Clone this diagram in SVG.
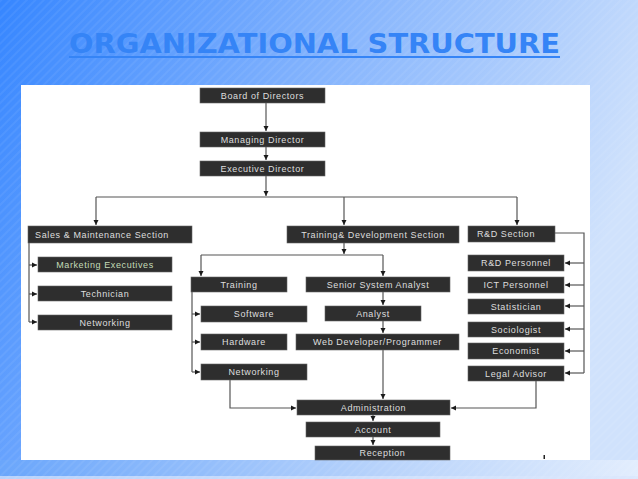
<svg xmlns="http://www.w3.org/2000/svg" width="638" height="479" viewBox="0 0 638 479">
<defs>
<linearGradient id="bg" x1="0" y1="0" x2="1" y2="0.35">
<stop offset="0" stop-color="#3686ff"/>
<stop offset="0.45" stop-color="#7eb0fd"/>
<stop offset="1" stop-color="#d0e2fc"/>
</linearGradient>
<linearGradient id="band" x1="0" y1="0" x2="1" y2="0">
<stop offset="0" stop-color="#6aa6fb"/>
<stop offset="0.6" stop-color="#b8d3fb"/>
<stop offset="1" stop-color="#e2edfd"/>
</linearGradient>
<pattern id="stripes" width="6" height="6" patternUnits="userSpaceOnUse" patternTransform="rotate(-45)">
<rect width="6" height="2" fill="#ffffff" opacity="0.06"/>
</pattern>
<marker id="arr" markerWidth="6" markerHeight="6" refX="5" refY="3" orient="auto" markerUnits="userSpaceOnUse">
<path d="M0,0.5 L5,3 L0,5.5 Z" fill="#1a1a1a"/>
</marker>
<style>
.box{fill:#2e2e2e;stroke:#666;stroke-width:0.6}
.lbl{font-family:"Liberation Sans",Arial,sans-serif;font-size:9px;letter-spacing:0.6px;fill:#dedede;text-anchor:middle}
.ln{fill:none;stroke:#555;stroke-width:1.2}
.ar{fill:none;stroke:#555;stroke-width:1.2;marker-end:url(#arr)}
</style>
</defs>
<rect width="638" height="479" fill="url(#bg)"/>
<rect x="0" y="460" width="638" height="19" fill="url(#band)"/>
<rect x="0" y="476" width="638" height="3" fill="#d8e6fc" opacity="0.7"/>
<rect width="638" height="479" fill="url(#stripes)"/>
<text x="69" y="53" font-family="DejaVu Sans,Liberation Sans,sans-serif" font-weight="bold" font-size="27" fill="#3584f6" textLength="491" lengthAdjust="spacingAndGlyphs">ORGANIZATIONAL STRUCTURE</text>
<rect x="69" y="56" width="491" height="2" fill="#3584f6"/>
<rect x="21" y="85" width="569" height="375" fill="#ffffff"/>

<g id="connectors">
<path class="ar" d="M266,103 V131"/>
<path class="ar" d="M266,147 V160"/>
<path class="ar" d="M266,176 V196"/>
<path class="ln" d="M96,197 H517"/>
<path class="ar" d="M96,197 V225"/>
<path class="ar" d="M344,197 V225"/>
<path class="ar" d="M517,197 V225"/>
<path class="ln" d="M29,243 V322"/>
<path class="ar" d="M29,265 H37"/>
<path class="ar" d="M29,294 H37"/>
<path class="ar" d="M29,322 H37"/>
<path class="ln" d="M555,233 H584 V373"/>
<path class="ar" d="M584,263 H565"/>
<path class="ar" d="M584,285 H565"/>
<path class="ar" d="M584,306 H565"/>
<path class="ar" d="M584,329 H565"/>
<path class="ar" d="M584,351 H565"/>
<path class="ar" d="M584,373 H565"/>
<path class="ar" d="M344,243 V254"/>
<path class="ln" d="M201,255 H383"/>
<path class="ar" d="M201,255 V276"/>
<path class="ar" d="M383,255 V276"/>
<path class="ln" d="M192,292 V372"/>
<path class="ar" d="M192,314 H200"/>
<path class="ar" d="M192,342 H200"/>
<path class="ar" d="M192,372 H200"/>
<path class="ar" d="M383,292 V305"/>
<path class="ar" d="M383,321 V333"/>
<path class="ar" d="M383,350 V399"/>
<path class="ar" d="M230,380 V408 H296"/>
<path class="ar" d="M536,381 V408 H451"/>
<path class="ar" d="M373,415 V421"/>
<path class="ar" d="M373,437 V445"/>
</g>

<g id="board"><rect class="box" x="200" y="88" width="125" height="15"/><text class="lbl" x="262.5" y="98.8">Board of Directors</text></g>
<g id="managing"><rect class="box" x="200" y="132" width="125" height="15"/><text class="lbl" x="262.5" y="142.8">Managing Director</text></g>
<g id="executive"><rect class="box" x="200" y="161" width="125" height="15"/><text class="lbl" x="262.5" y="171.8">Executive Director</text></g>
<g id="sales"><rect class="box" x="28" y="226" width="164" height="17"/><text class="lbl" x="102" y="237.8">Sales &amp; Maintenance Section</text></g>
<g id="training-dev"><rect class="box" x="287" y="226" width="172" height="17"/><text class="lbl" x="373" y="237.8">Training&amp; Development Section</text></g>
<g id="rd-section"><rect class="box" x="468" y="226" width="87" height="16"/><text class="lbl" x="506" y="237.3">R&amp;D Section</text></g>
<g id="marketing"><rect class="box" x="38" y="257" width="134" height="15"/><text class="lbl" x="105" y="267.8" style="fill:#c4dcb8">Marketing  Executives</text></g>
<g id="technician"><rect class="box" x="38" y="286" width="134" height="15"/><text class="lbl" x="105" y="296.8">Technician</text></g>
<g id="networking-sales"><rect class="box" x="38" y="315" width="134" height="15"/><text class="lbl" x="105" y="325.8">Networking</text></g>
<g id="training"><rect class="box" x="191" y="277" width="96" height="15"/><text class="lbl" x="239" y="287.8">Training</text></g>
<g id="senior-analyst"><rect class="box" x="306" y="277" width="144" height="15"/><text class="lbl" x="378" y="287.8">Senior System Analyst</text></g>
<g id="software"><rect class="box" x="201" y="306" width="106" height="16"/><text class="lbl" x="254" y="317.3">Software</text></g>
<g id="analyst"><rect class="box" x="325" y="306" width="96" height="15"/><text class="lbl" x="373" y="316.8">Analyst</text></g>
<g id="hardware"><rect class="box" x="201" y="334" width="86" height="16"/><text class="lbl" x="244" y="345.3">Hardware</text></g>
<g id="webdev"><rect class="box" x="296" y="334" width="163" height="16"/><text class="lbl" x="377.5" y="345.3">Web Developer/Programmer</text></g>
<g id="networking-td"><rect class="box" x="201" y="364" width="106" height="16"/><text class="lbl" x="254" y="375.3">Networking</text></g>
<g id="rd-personnel"><rect class="box" x="468" y="255" width="96" height="16"/><text class="lbl" x="516" y="266.3">R&amp;D Personnel</text></g>
<g id="ict"><rect class="box" x="468" y="277" width="96" height="16"/><text class="lbl" x="516" y="288.3">ICT Personnel</text></g>
<g id="statistician"><rect class="box" x="468" y="299" width="96" height="15"/><text class="lbl" x="516" y="309.8">Statistician</text></g>
<g id="sociologist"><rect class="box" x="468" y="322" width="96" height="15"/><text class="lbl" x="516" y="332.8">Sociologist</text></g>
<g id="economist"><rect class="box" x="468" y="343" width="96" height="16"/><text class="lbl" x="516" y="354.3">Economist</text></g>
<g id="legal"><rect class="box" x="468" y="366" width="96" height="15"/><text class="lbl" x="516" y="376.8">Legal Advisor</text></g>
<g id="administration"><rect class="box" x="297" y="400" width="153" height="15"/><text class="lbl" x="373.5" y="410.8">Administration</text></g>
<g id="account"><rect class="box" x="306" y="422" width="134" height="15"/><text class="lbl" x="373" y="432.8">Account</text></g>
<g id="reception"><rect class="box" x="315" y="446" width="135" height="14"/><text class="lbl" x="382.5" y="456">Reception</text></g>
<rect x="543.5" y="455" width="1.5" height="4" fill="#222"/>
</svg>
